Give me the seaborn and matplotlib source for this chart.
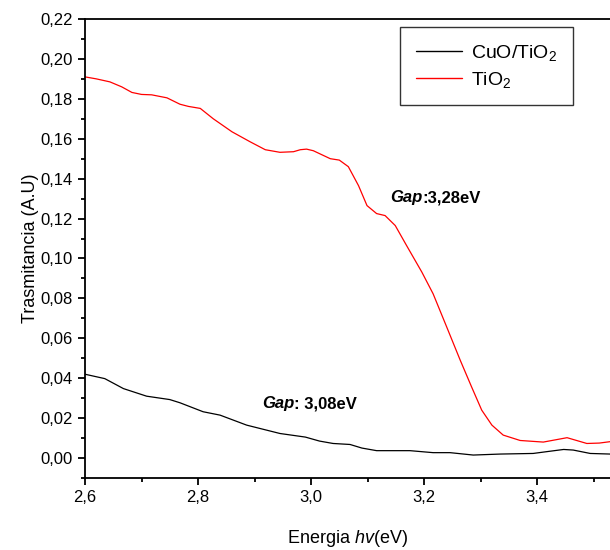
import numpy as np
import pandas as pd
import seaborn as sns
import matplotlib
matplotlib.use("Agg")
import matplotlib.pyplot as plt
from matplotlib.ticker import MultipleLocator, FuncFormatter

# Transmittance spectra vs photon energy
energy_cuo = [2.600, 2.635, 2.668, 2.709, 2.750, 2.768, 2.809, 2.839, 2.886, 2.945,
              2.990, 3.015, 3.039, 3.069, 3.090, 3.116, 3.175, 3.216, 3.246, 3.287,
              3.335, 3.393, 3.417, 3.447, 3.464, 3.494, 3.529]
trans_cuo = [0.0420, 0.0398, 0.0348, 0.0310, 0.0293, 0.0277, 0.0232, 0.0215, 0.0165, 0.0123,
             0.0105, 0.0085, 0.0073, 0.0068, 0.0050, 0.0037, 0.0037, 0.0027, 0.0027, 0.0015,
             0.0020, 0.0023, 0.0032, 0.0043, 0.0040, 0.0023, 0.0020]

energy_tio2 = [2.600, 2.620, 2.644, 2.665, 2.683, 2.700, 2.718, 2.745, 2.768, 2.783,
               2.804, 2.827, 2.860, 2.892, 2.919, 2.945, 2.969, 2.981, 2.992, 3.004,
               3.034, 3.050, 3.066, 3.084, 3.099, 3.116, 3.131, 3.149, 3.169, 3.196,
               3.216, 3.240, 3.264, 3.284, 3.302, 3.320, 3.340, 3.370, 3.411, 3.453,
               3.488, 3.510, 3.529]
trans_tio2 = [0.1910, 0.1900, 0.1885, 0.1860, 0.1832, 0.1822, 0.1820, 0.1805, 0.1773, 0.1762,
              0.1752, 0.1700, 0.1635, 0.1585, 0.1545, 0.1532, 0.1535, 0.1545, 0.1548, 0.1540,
              0.1500, 0.1493, 0.1460, 0.1365, 0.1265, 0.1225, 0.1215, 0.1165, 0.1065, 0.0932,
              0.0823, 0.0657, 0.0490, 0.0357, 0.0240, 0.0165, 0.0115, 0.0088, 0.0080, 0.0102,
              0.0073, 0.0075, 0.0082]

series_labels = [r"CuO/TiO$_2$", r"TiO$_2$"]
series_colors = ["black", "#ff0000"]

x_ticks = [2.6, 2.8, 3.0, 3.2, 3.4]
y_ticks = [0.00, 0.02, 0.04, 0.06, 0.08, 0.10, 0.12, 0.14, 0.16, 0.18, 0.20, 0.22]

sns.set_theme(style="ticks")
plt.rcParams["font.family"] = ["Liberation Sans", "DejaVu Sans"]
plt.rcParams["mathtext.fontset"] = "custom"
plt.rcParams["mathtext.rm"] = "Liberation Sans"
plt.rcParams["mathtext.it"] = "Liberation Sans:italic"
plt.rcParams["mathtext.bf"] = "Liberation Sans:bold"
for key in ["text.color", "axes.labelcolor", "xtick.color", "ytick.color",
            "axes.edgecolor"]:
    plt.rcParams[key] = "black"

fig = plt.figure(figsize=(6.1, 5.5), dpi=100)
ax = fig.add_axes([85 / 610, 1 - 478 / 550, 1 - 85 / 610, (478 - 19) / 550])

df_cuo = pd.DataFrame({"E": energy_cuo, "T": trans_cuo})
df_tio = pd.DataFrame({"E": energy_tio2, "T": trans_tio2})
sns.lineplot(data=df_cuo, x="E", y="T", color=series_colors[0], lw=0.9,
             label=series_labels[0], ax=ax, sort=False, estimator=None)
sns.lineplot(data=df_tio, x="E", y="T", color=series_colors[1], lw=0.9,
             label=series_labels[1], ax=ax, sort=False, estimator=None)

ax.set_xlim(2.6, 3.529)
ax.set_ylim(-0.01, 0.22)
ax.set_xticks(x_ticks)
ax.set_yticks(y_ticks)
ax.xaxis.set_minor_locator(MultipleLocator(0.1))
ax.yaxis.set_minor_locator(MultipleLocator(0.01))
comma = lambda fmt: FuncFormatter(lambda v, p: format(v, fmt).replace(".", ","))
ax.xaxis.set_major_formatter(comma(".1f"))
ax.yaxis.set_major_formatter(comma(".2f"))

for side in ["left", "bottom", "top"]:
    ax.spines[side].set_linewidth(1.3)
    ax.spines[side].set_color("black")
ax.spines["right"].set_visible(False)
ax.tick_params(which="major", direction="out", length=5, width=1.3,
               labelsize=12, colors="black", top=False, right=False, pad=4)
ax.tick_params(which="minor", direction="out", length=3, width=1.3,
               top=False, right=False)

ax.set_xlabel(r"Energia $hv$(eV)", fontsize=13, labelpad=16)
ax.set_ylabel("Trasmitancia (A.U)", fontsize=13, labelpad=1)

leg = ax.legend(loc="upper left", bbox_to_anchor=(0.6, 0.982), fontsize=14,
                frameon=True, fancybox=False, edgecolor="black",
                handlelength=2.4, handletextpad=0.45, borderpad=0.8,
                labelspacing=0.35, borderaxespad=0)
leg.get_frame().set_linewidth(1.0)
for line in leg.get_lines():
    line.set_linewidth(1.0)

# Band-gap annotations
t1 = ax.text(3.140, 0.1305, "Gap", fontsize=12, fontweight="bold",
             fontstyle="italic", va="center", ha="left", color="black")
ax.annotate(":3,28eV", xy=(1, 0), xycoords=t1, va="bottom", ha="left",
            fontsize=12, fontweight="bold", color="black")
t2 = ax.text(2.913, 0.0273, "Gap", fontsize=12, fontweight="bold",
             fontstyle="italic", va="center", ha="left", color="black")
ax.annotate(": 3,08eV", xy=(1, 0), xycoords=t2, va="bottom", ha="left",
            fontsize=12, fontweight="bold", color="black")

fig.savefig("out.png", dpi=100)
